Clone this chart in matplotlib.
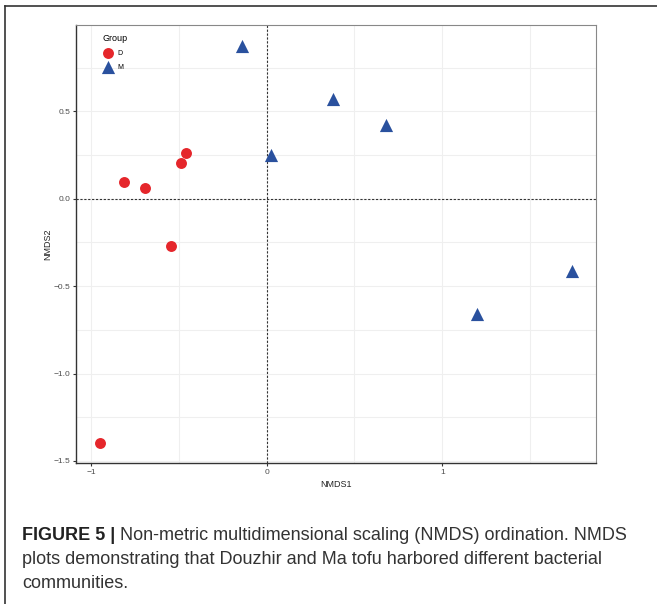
import matplotlib.pyplot as plt
from matplotlib.lines import Line2D

plt.rcParams['font.family'] = ['Liberation Sans', 'DejaVu Sans']

# NMDS scores
d_x = [-0.81, -0.695, -0.49, -0.461, -0.547, -0.951]
d_y = [0.097, 0.063, 0.205, 0.261, -0.273, -1.398]
m_x = [-0.142, 0.023, 0.376, 0.678, 1.196, 1.737]
m_y = [0.875, 0.25, 0.568, 0.42, -0.659, -0.415]

x_ticks = [-1, 0, 1]
x_labels = ['\u22121', '0', '1']
y_ticks = [-1.5, -1.0, -0.5, 0.0, 0.5]
y_labels = ['\u22121.5', '\u22121.0', '\u22120.5', '0.0', '0.5']

fig = plt.figure(figsize=(6.57, 6.04), dpi=100)
ax = fig.add_axes([76 / 657, 1 - 463 / 604, 520 / 657, 438 / 604])

grid_col = '#EFEFEF'
for v in [-1, -0.5, 0, 0.5, 1, 1.5]:
    ax.axvline(v, color=grid_col, lw=0.8, zorder=0)
for v in [-1.5, -1.25, -1, -0.75, -0.5, -0.25, 0, 0.25, 0.5, 0.75]:
    ax.axhline(v, color=grid_col, lw=0.8, zorder=0)

ax.axvline(0, color='#333333', lw=0.8, ls=(0, (2, 1.5)), zorder=1)
ax.axhline(0, color='#333333', lw=0.8, ls=(0, (2, 1.5)), zorder=1)

ax.scatter(d_x, d_y, s=62, marker='o', color='#E5262B', lw=0, label='D', zorder=3)
ax.scatter(m_x, m_y, s=90, marker='^', color='#2A519E', lw=0, label='M', zorder=3)

ax.set_xlim(-1.085, 1.875)
ax.set_ylim(-1.512, 0.994)
ax.set_xticks(x_ticks)
ax.set_xticklabels(x_labels)
ax.set_yticks(y_ticks)
ax.set_yticklabels(y_labels)
ax.tick_params(labelsize=6, labelcolor='#4D4D4D', length=2.5, width=0.8,
               color='#333333', pad=1.5)
for side in ['top', 'right']:
    ax.spines[side].set_color('#888888')
    ax.spines[side].set_linewidth(0.8)
for side in ['left', 'bottom']:
    ax.spines[side].set_color('#333333')
    ax.spines[side].set_linewidth(1.0)

ax.set_xlabel('NMDS1', fontsize=6.5, color='#222222', labelpad=3)
ax.set_ylabel('NMDS2', fontsize=6.5, color='#222222', labelpad=1)

leg = ax.legend(loc='upper left', bbox_to_anchor=(0.045, 0.985), frameon=False,
                title='Group', fontsize=5, title_fontsize=6.5, handletextpad=0.6,
                labelspacing=1.0, borderaxespad=0, handlelength=1.6)
leg._legend_box.align = 'left'

# outer frame of the figure panel
fig.add_artist(Line2D([5 / 657, 1], [1 - 6 / 604, 1 - 6 / 604], color='#333333', lw=1.2))
fig.add_artist(Line2D([5 / 657, 5 / 657], [0, 1 - 6 / 604], color='#333333', lw=1.2))

# caption
lines = [
    ('FIGURE 5 | ', 'Non-metric multidimensional scaling (NMDS) ordination. NMDS'),
    ('', 'plots demonstrating that Douzhir and Ma tofu harbored different bacterial'),
    ('', 'communities.'),
]
renderer = fig.canvas.get_renderer()
y0 = 1 - 536 / 604
for i, (bold, rest) in enumerate(lines):
    y = y0 - i * 23.5 / 604
    x = 22 / 657
    if bold:
        t = fig.text(x, y, bold, fontsize=13, fontweight='bold', color='#222222', va='center')
        bb = t.get_window_extent(renderer)
        x = bb.x1 / fig.bbox.width
    fig.text(x, y, rest, fontsize=13, color='#333333', va='center')

fig.savefig('out.png', dpi=100)
